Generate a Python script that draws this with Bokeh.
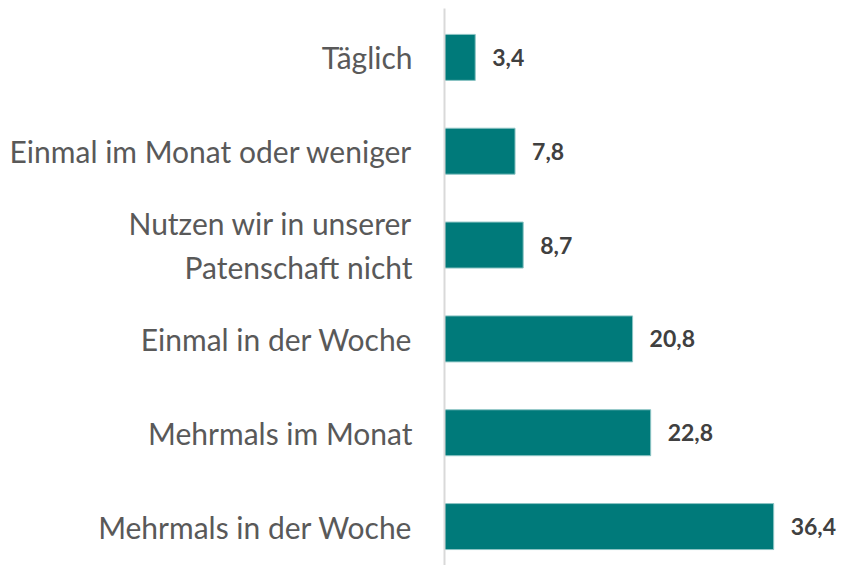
from bokeh.plotting import figure
from bokeh.models import ColumnDataSource, FixedTicker, Range1d
from bokeh.embed import file_html
from bokeh.resources import INLINE
from bokeh.core.properties import value

categories = ["Mehrmals in der Woche", "Mehrmals im Monat", "Einmal in der Woche",
              "Nutzen wir in unserer\nPatenschaft nicht", "Einmal im Monat oder weniger", "Täglich"]
values = [36.4, 22.8, 20.8, 8.7, 7.8, 3.4]
positions = list(range(len(categories)))
labels = [f"{v:.1f}".replace(".", ",") for v in values]

src = ColumnDataSource(dict(y=positions, v=values, lab=labels))

p = figure(width=841, height=565, output_backend="svg", toolbar_location=None,
           x_range=Range1d(0, 43.9), y_range=Range1d(-0.415, 5.521),
           min_border_left=444, min_border_right=0, min_border_top=8, min_border_bottom=0)
p.outline_line_color = None
p.grid.visible = False
p.xaxis.visible = False
p.background_fill_color = "white"

p.hbar(y="y", right="v", left=0, height=0.49, source=src,
       fill_color="#007A7A", line_color="#8CC4C4", line_width=1)
p.text(x="v", y="y", text="lab", source=src, x_offset=17, text_baseline="middle",
       text_font=value("Lato"), text_font_style="bold", text_font_size="23px", text_color="#404040")

ax = p.yaxis[0]
ax.ticker = FixedTicker(ticks=positions)
ax.major_label_overrides = {i: c for i, c in zip(positions, categories)}
ax.major_tick_line_color = None
ax.minor_tick_line_color = None
ax.axis_line_color = "#D9D9D9"
ax.axis_line_width = 2
ax.major_label_standoff = 26
ax.major_label_text_font = "Lato"
ax.major_label_text_font_size = "30px"
ax.major_label_text_color = "#595959"

open("out.html", "w").write(file_html(p, INLINE))
